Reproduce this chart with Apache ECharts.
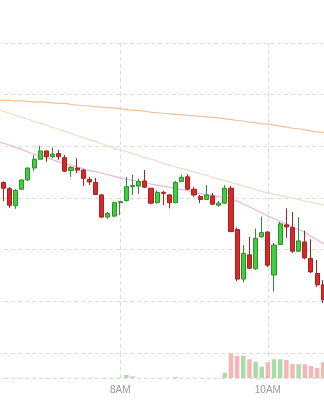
<!DOCTYPE html>
<html>
<head>
<meta charset="utf-8">
<script src="https://cdn.jsdelivr.net/npm/echarts@6/dist/echarts.min.js"></script>
<style>
  html, body { margin: 0; padding: 0; background: #ffffff; }
  #chart { width: 324px; height: 400px; }
</style>
</head>
<body>
<div id="chart"></div>
<script>
// 5-minute categories
const times = ['6:20','6:25','6:30','6:35','6:40','6:45','6:50','6:55','7:00','7:05','7:10','7:15','7:20','7:25','7:30','7:35','7:40','7:45','7:50','7:55',
  '8:00','8:05','8:10','8:15','8:20','8:25','8:30','8:35','8:40','8:45','8:50','8:55','9:00','9:05','9:10','9:15','9:20','9:25','9:30','9:35',
  '9:40','9:45','9:50','9:55','10:00','10:05','10:10','10:15','10:20','10:25','10:30','10:35','10:40','10:45','10:50'];

const tickLabels = { '8:00': '8AM', '10:00': '10AM' };

const opens  = [143.25,143.30,143.18,142.85,143.17,143.35,143.58,143.75,143.91,143.80,143.86,143.78,143.53,143.58,143.54,143.36,143.30,143.06,142.63,142.65,
  142.91,142.95,143.22,143.23,143.33,143.19,142.91,143.11,143.06,142.91,143.32,143.41,143.17,143.03,142.97,143.04,142.86,142.90,143.19,142.39,
  141.43,141.90,141.63,142.25,142.34,141.51,142.10,142.48,142.43,141.97,142.15,141.83,141.54,141.32,141.03];
const closes = [143.31,143.19,142.86,143.15,143.35,143.58,143.75,143.91,143.80,143.85,143.80,143.52,143.59,143.54,143.38,143.31,143.07,142.63,142.70,142.91,
  142.93,143.22,143.24,143.32,143.21,142.90,143.11,143.09,142.91,143.30,143.40,143.17,143.06,142.97,143.06,142.88,142.90,143.19,142.35,141.43,
  141.93,141.64,142.22,142.33,141.70,142.09,142.50,142.44,141.97,142.17,141.84,141.57,141.32,141.03,140.90];
const lows   = [143.20,142.94,142.81,142.79,143.15,143.33,143.52,143.74,143.70,143.77,143.74,143.50,143.41,143.48,143.23,143.25,143.06,142.61,142.60,142.63,
  142.67,142.93,143.06,143.08,143.19,142.88,142.89,142.86,142.80,142.90,143.31,143.15,143.02,142.90,142.96,142.86,142.83,142.88,142.34,141.39,
  141.37,141.63,141.61,142.23,141.66,141.19,142.09,142.23,141.94,141.95,141.82,141.55,141.28,140.97,140.85];
const highs  = [143.40,143.32,143.21,143.17,143.36,143.59,143.83,144.01,143.92,143.98,143.93,143.83,143.62,143.77,143.56,143.41,143.39,143.08,142.73,142.93,
  142.94,143.41,143.45,143.38,143.54,143.19,143.15,143.14,143.08,143.33,143.45,143.46,143.21,143.06,143.25,143.10,142.94,143.25,143.23,142.43,
  142.09,142.25,142.41,142.64,142.36,142.13,142.54,142.80,142.73,142.63,142.37,142.20,141.80,141.41,141.10];

const volumes = [1,1,1,1,1,1,1,1,1,1,1,1,1,1,1,1,1,1,1,1,
  2,12,6,1,1,1,1,1,1,4,1,1,1,1,1,1,1,21,99,89,
  89,75,65,45,63,75,75,72,56,55,55,48,41,63,55];

const maLong  = [144.90,144.89,144.89,144.88,144.88,144.87,144.86,144.86,144.85,144.84,144.83,144.83,144.81,144.80,144.79,144.78,144.77,144.76,144.75,144.74,
  144.73,144.71,144.70,144.69,144.68,144.66,144.65,144.64,144.63,144.62,144.61,144.60,144.59,144.58,144.57,144.56,144.55,144.53,144.52,144.50,
  144.49,144.47,144.46,144.44,144.43,144.41,144.39,144.37,144.35,144.34,144.32,144.30,144.28,144.27,144.25];
const maMid   = [144.72,144.68,144.64,144.60,144.56,144.53,144.48,144.45,144.41,144.37,144.33,144.29,144.25,144.21,144.17,144.13,144.09,144.05,144.01,143.97,
  143.93,143.90,143.86,143.82,143.78,143.75,143.71,143.67,143.64,143.60,143.57,143.54,143.50,143.47,143.44,143.40,143.37,143.33,143.30,143.27,
  143.23,143.20,143.16,143.13,143.10,143.07,143.05,143.02,143.00,142.97,142.94,142.92,142.89,142.87,142.84];
const maShort = [144.10,144.06,144.02,143.98,143.94,143.89,143.85,143.81,143.78,143.74,143.70,143.67,143.63,143.60,143.57,143.53,143.51,143.48,143.45,143.42,
  143.39,143.36,143.34,143.32,143.30,143.27,143.25,143.23,143.21,143.18,143.16,143.14,143.12,143.09,143.07,143.05,143.03,143.00,142.98,142.94,
  142.88,142.83,142.77,142.71,142.65,142.60,142.55,142.50,142.44,142.39,142.33,142.26,142.19,142.12,142.05];

const candleData = times.map((t, i) => [opens[i], closes[i], lows[i], highs[i]]);
const volData = volumes.map((v, i) => ({
  value: v,
  itemStyle: { color: closes[i] >= opens[i] ? '#a9dca9' : '#f7b6b6' }
}));

const gridLine = { show: true, lineStyle: { color: '#dddddd', type: [4, 3], width: 1 } };
const showTick = (idx, val) => tickLabels.hasOwnProperty(val);

const chart = echarts.init(document.getElementById('chart'), null, { renderer: 'canvas' });
chart.setOption({
  animation: false,
  backgroundColor: '#ffffff',
  grid: [
    { left: -2.85, right: -5.4, top: 43, bottom: 47, containLabel: false, outerBoundsMode: 'none' },
    { left: -2.85, right: -5.4, top: 353, bottom: 22, containLabel: false, outerBoundsMode: 'none' }
  ],
  xAxis: [
    { type: 'category', gridIndex: 0, data: times, boundaryGap: false,
      axisLine: { show: false }, axisTick: { show: false }, axisLabel: { show: false },
      splitLine: { show: true, interval: showTick, lineStyle: { color: '#dddddd', type: [4, 3], width: 1 } } },
    { type: 'category', gridIndex: 1, data: times, boundaryGap: false,
      axisLine: { show: false }, axisTick: { show: false },
      axisLabel: { show: true, interval: showTick, formatter: v => tickLabels[v] || '',
        color: '#9a9a9a', fontSize: 10, fontFamily: 'Liberation Sans, Arial, sans-serif', margin: 7 },
      splitLine: { show: true, interval: showTick, lineStyle: { color: '#dddddd', type: [4, 3], width: 1 } } }
  ],
  yAxis: [
    { type: 'value', gridIndex: 0, min: 140, max: 146, interval: 1, scale: true,
      axisLine: { show: false }, axisTick: { show: false }, axisLabel: { show: false },
      splitLine: gridLine },
    { type: 'value', gridIndex: 1, min: 0, max: 100, interval: 100,
      axisLine: { show: false }, axisTick: { show: false }, axisLabel: { show: false },
      splitLine: gridLine }
  ],
  series: [
    { name: 'MA long', type: 'line', xAxisIndex: 0, yAxisIndex: 0, data: maLong, smooth: true,
      showSymbol: false, lineStyle: { color: '#f0c29c', width: 1.2 }, z: 1 },
    { name: 'MA mid', type: 'line', xAxisIndex: 0, yAxisIndex: 0, data: maMid, smooth: true,
      showSymbol: false, lineStyle: { color: '#efdcc6', width: 1.2 }, z: 1 },
    { name: 'MA short', type: 'line', xAxisIndex: 0, yAxisIndex: 0, data: maShort, smooth: true,
      showSymbol: false, lineStyle: { color: '#e8b8dc', width: 1.2 }, z: 1 },
    { name: 'Price', type: 'candlestick', xAxisIndex: 0, yAxisIndex: 0, data: candleData,
      barWidth: 4.6, z: 3,
      itemStyle: { color: '#3ecf3e', color0: '#d42a2a', borderColor: '#2f8f2f', borderColor0: '#a82020', borderWidth: 1 } },
    { name: 'Volume', type: 'bar', xAxisIndex: 1, yAxisIndex: 1, data: volData, barWidth: 4.5 }
  ]
});
</script>
</body>
</html>
